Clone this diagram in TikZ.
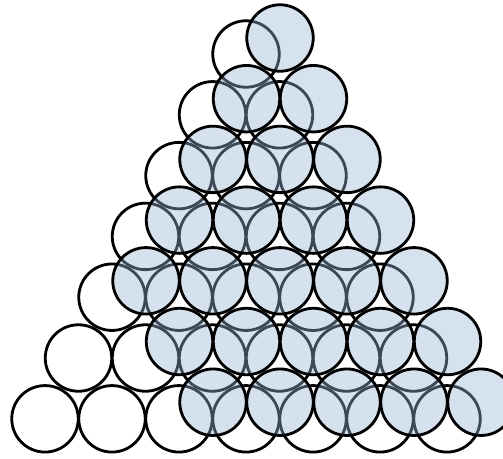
\documentclass[tikz,border=0pt]{standalone}
\usepackage{xcolor}
\definecolor{ballblue}{RGB}{152,182,212}

\begin{document}
\begin{tikzpicture}[
  x=0.02cm, y=-0.02cm,
  lowball/.style={
    circle,
    draw,
    fill=white,
    line width=1.6pt,
    minimum size=1.33cm,
    inner sep=0pt
  },
  topball/.style={
    circle,
    draw,
    fill=ballblue,
    fill opacity=0.4,
    draw opacity=1,
    line width=1.6pt,
    minimum size=1.33cm,
    inner sep=0pt
  }
]
\useasboundingbox (0,0) rectangle (503,458);

% lower layer: full triangle, 7 rows
\foreach \r in {1,...,7}{
  \foreach \c in {1,...,\r}{
    \node[lowball] (w\r-\c) at ({246-33.5*(\r-1)+67*(\c-1)}, {54+60.8*(\r-1)}) {};
  }
}

% upper layer, lower left corner left open
\foreach \r/\first in {1/1,2/1,3/1,4/1,5/1,6/2,7/3}{
  \foreach \c in {\first,...,\r}{
    \node[topball] (b\r-\c) at ({280-33.5*(\r-1)+67*(\c-1)}, {38+60.7*(\r-1)}) {};
  }
}

\end{tikzpicture}
\end{document}
